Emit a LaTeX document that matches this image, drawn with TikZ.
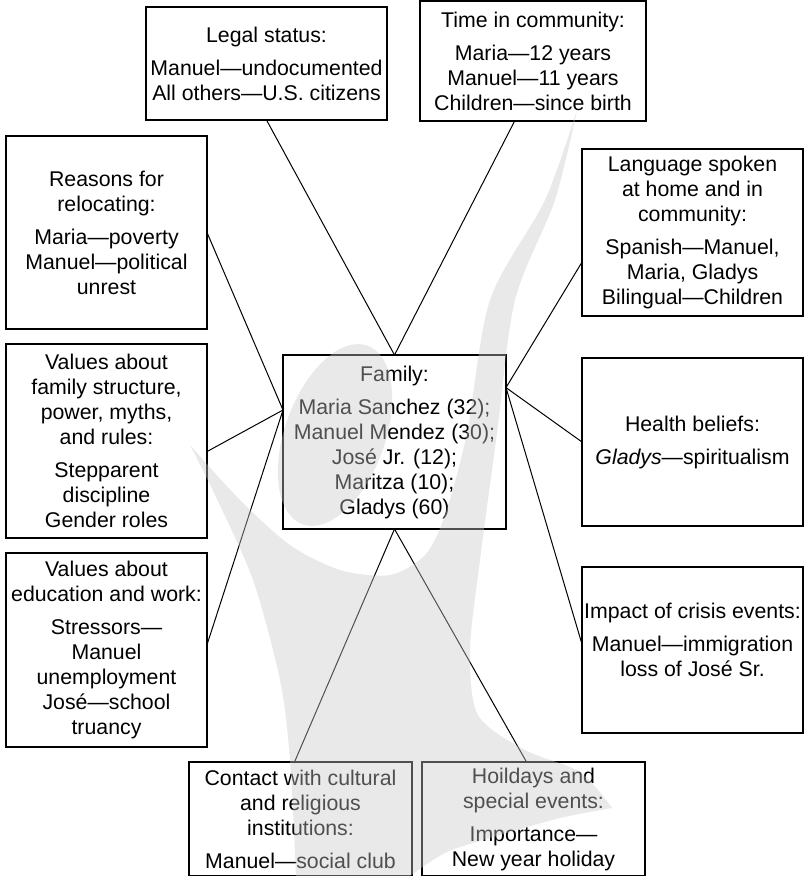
\documentclass[tikz,border=0pt]{standalone}
\usepackage{fontspec}
\setmainfont{Liberation Sans}
\usepackage{tikz}

\begin{document}
\begin{tikzpicture}[x=0.5pt, y=-0.5pt,
  every node/.style={font=\fontsize{10.65pt}{12.5pt}\selectfont},
  box/.style={draw, line width=0.6pt, align=center, inner sep=1pt, outer sep=0pt},
  link/.style={line width=0.5pt},
  ghost/.style={fill=black!22, fill opacity=0.4}]
  \useasboundingbox (0,0) rectangle (804,876);
  \clip (0,0) rectangle (804,876);

  \node[box, minimum width=111.5pt, minimum height=87pt] (fam) at (394.5,442)
    {Family:\\[4pt] Maria Sanchez (32);\\ Manuel Mendez (30);\\ José Jr. (12);\\ Maritza (10);\\ Gladys (60)};
  \node[box, minimum width=120.5pt, minimum height=56.5pt] (legal) at (266.5,63.5)
    {Legal status:\\[4pt] Manuel—undocumented\\ All others—U.S. citizens};
  \node[box, minimum width=113pt, minimum height=60pt] (time) at (533,61)
    {Time in community:\\[4pt] Maria—12 years\\ Manuel—11 years\\ Children—since birth};
  \node[box, minimum width=100.5pt, minimum height=96.5pt] (reasons) at (106.5,232.5)
    {Reasons for\\ relocating:\\[4pt] Maria—poverty\\ Manuel—political\\ unrest};
  \node[box, minimum width=110.5pt, minimum height=83.5pt] (lang) at (692.5,232.5)
    {Language spoken\\ at home and in\\ community:\\[4pt] Spanish—Manuel,\\ Maria, Gladys\\ Bilingual—Children};
  \node[box, minimum width=100.5pt, minimum height=97pt] (valfam) at (106.5,441)
    {Values about\\ family structure,\\ power, myths,\\ and rules:\\[4pt] Stepparent\\ discipline\\ Gender roles};
  \node[box, minimum width=110.5pt, minimum height=84pt] (health) at (692.5,442)
    {Health beliefs:\\[4pt] \textit{Gladys}—spiritualism};
  \node[box, minimum width=100.5pt, minimum height=97pt] (valedu) at (106.5,650)
    {Values about\\ education and work:\\[4pt] Stressors—\\ Manuel\\ unemployment\\ José—school\\ truancy};
  \node[box, minimum width=110.5pt, minimum height=83pt] (crisis) at (692.5,650)
    {Impact of crisis events:\\[4pt] Manuel—immigration\\ loss of José Sr.\\[-2.5pt] \mbox{}};
  \node[box, minimum width=111.5pt, minimum height=57pt] (contact) at (300.5,819)
    {Contact with cultural\\ and religious\\ institutions:\\[4pt] Manuel—social club};
  \node[box, minimum width=111.5pt, minimum height=57pt] (holi) at (533.5,819)
    {Hoildays and\\ special events:\\[4pt] Importance—\\ New year holiday};

  \draw[link] (legal.south) -- (fam.north);
  \draw[link] (time.253) -- (fam.north);
  \draw[link] (reasons.east) -- (fam.164);
  \draw[link] (valfam.-6) -- (fam.164);
  \draw[link] (valedu.3) -- (fam.164);
  \draw[link] (lang.195) -- (fam.26);
  \draw[link] (health.west) -- (fam.26);
  \draw[link] (crisis.177) -- (fam.26);
  \draw[link] (contact.96) -- (fam.south);
  \draw[link] (holi.97) -- (fam.south);

  \fill[ghost] plot[smooth] coordinates {(577,110) (555,200) (515,300) (497,433) (480,560) (470,650) (478,715) (525,750) (580,772) (612,808)}
    -- plot[smooth] coordinates {(612,808) (560,818) (500,835) (447,852) (410,876)}
    -- plot[smooth] coordinates {(296,876) (290,760) (280,680) (253,580) (215,495) (190,445)}
    -- plot[smooth] coordinates {(190,445) (240,500) (290,545) (340,570) (390,575) (425,555) (445,515) (467,433) (490,300) (545,200) (577,110)} -- cycle;
  \fill[ghost, rotate around={-20:(335,435)}] (335,435) ellipse [x radius=25pt, y radius=47.5pt];
\end{tikzpicture}
\end{document}
